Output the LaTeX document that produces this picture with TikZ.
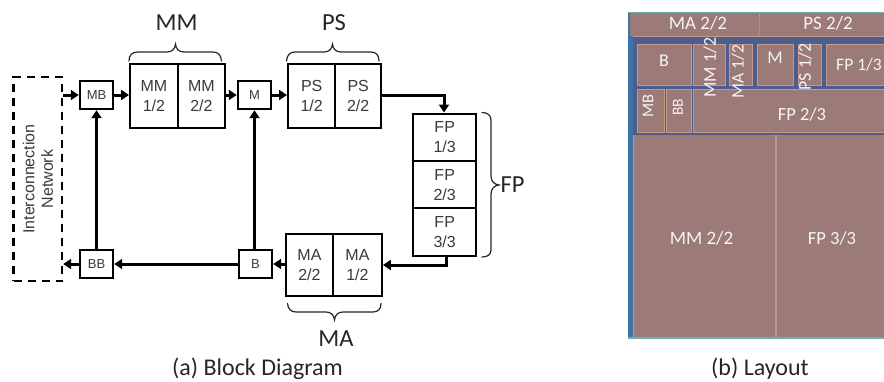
\documentclass[tikz,border=0pt]{standalone}
\usepackage{fontspec}
\setmainfont{Carlito}
\newfontfamily\blockfont{Liberation Sans}
\usetikzlibrary{arrows.meta}
\definecolor{inktext}{HTML}{3A3A3A}
\definecolor{diebg}{HTML}{4F5D8E}
\definecolor{cellfill}{HTML}{9B7A78}
\definecolor{cellline}{HTML}{C29A8A}
\definecolor{dieleft}{HTML}{3F72A5}
\definecolor{dieteal}{HTML}{6FB0A8}
\tikzset{
  blockbox/.style={draw=black,line width=2.4pt,fill=white,minimum width=#1,inner sep=0pt,align=center,text=inktext,font=\blockfont\fontsize{16}{20}\selectfont,anchor=north west},
  smallbox/.style={draw=black,line width=2.4pt,fill=white,minimum width=33pt,minimum height=28pt,inner sep=0pt,text=inktext,font=\blockfont\fontsize{13}{15}\selectfont},
  conn/.style={line width=3pt,-{Triangle[length=8pt,width=10pt]}},
  grpbrace/.style={draw=black!85,line width=1.2pt,line cap=round},
  grplabel/.style={text=black!85,font=\fontsize{24.5}{26}\selectfont},
  caption/.style={text=black!85,font=\fontsize{24}{26}\selectfont},
  cell/.style={draw=cellline,line width=.6pt,fill=cellfill,inner sep=0pt,anchor=north west},
  celltext/.style={text=white!92!cellfill,font=\fontsize{#1}{17}\selectfont,inner sep=0pt},
  celltext/.default=15
}
\begin{document}
\begin{tikzpicture}[x=1pt,y=-1pt]
\useasboundingbox (0,0) rectangle (884,381);
% --- block diagram ---
\node[draw=black,dash pattern=on 8pt off 6pt,line width=2.4pt,minimum width=48.5pt,minimum height=204pt,inner sep=0pt] (net) at (37.75,179) {};
\node[rotate=90,align=center,text=inktext,font=\blockfont\fontsize{16}{18.5}\selectfont] (netlabel) at (38,179) {Interconnection\\Network};
\node[smallbox] (mb) at (96.5,95) {MB};
\node[smallbox] (bb) at (96.5,264) {BB};
\node[smallbox] (m) at (254.5,95) {M};
\node[smallbox] (b) at (255.5,264) {B};
\node[blockbox=47.5pt,minimum height=64pt] (mm1) at (129,63) {MM\\1/2};
\node[blockbox=47.5pt,minimum height=64pt] (mm2) at (176.5,63) {MM\\2/2};
\node[blockbox=47pt,minimum height=64pt] (ps1) at (287,63) {PS\\1/2};
\node[blockbox=46pt,minimum height=64pt] (ps2) at (334,63) {PS\\2/2};
\node[blockbox=63pt,minimum height=47.5pt] (fp1) at (412,112.5) {FP\\1/3};
\node[blockbox=63pt,minimum height=47.5pt] (fp2) at (412,160) {FP\\2/3};
\node[blockbox=63pt,minimum height=48pt] (fp3) at (412,207) {FP\\3/3};
\node[blockbox=47.5pt,minimum height=62pt] (ma2) at (284.5,233) {MA\\2/2};
\node[blockbox=48.5pt,minimum height=62pt] (ma1) at (332,233) {MA\\1/2};
\coordinate (fpin) at (444,95);
\coordinate (fpout) at (446.5,265);
\draw[conn] (net.east |- mb) -- (mb);
\draw[conn] (mb) -- (mm1.west |- mb);
\draw[conn] (mm2.east |- m) -- (m);
\draw[conn] (m) -- (ps1.west |- m);
\draw[conn] (ps2.east |- fpin) -- (fpin) -- (fp1.north -| fpin);
\draw[line width=3pt] (fp3.south -| fpout) -- (fpout);
\draw[conn] ([xshift=1.5pt]fpout) -- (ma1.east |- fpout);
\draw[conn] (ma2.west |- b) -- (b);
\draw[conn] (b) -- (bb);
\draw[conn] (bb) -- (net.east |- bb);
\draw[conn] (bb) -- (mb);
\draw[conn] (b.north -| m) -- (m);
% braces
\draw[grpbrace] (129,61) .. controls (129,55) and (132,52) .. (138,52) -- (167,52) .. controls (172,52) and (175,49) .. (175.5,44) .. controls (176,49) and (179,52) .. (184,52) -- (213,52) .. controls (218,52) and (221,55) .. (221.5,61);
\draw[grpbrace] (286.5,61) .. controls (287,55) and (290,52) .. (295,52) -- (324,52) .. controls (329,52) and (332,49) .. (332.5,44) .. controls (333,49) and (336,52) .. (341,52) -- (371,52) .. controls (376,52) and (379,55) .. (379,61);
\draw[grpbrace] (482,112.5) .. controls (487,112.5) and (491,115) .. (491,120) -- (491,176) .. controls (491,181) and (494,184.5) .. (499,185) .. controls (494,185.5) and (491,189) .. (491,194) -- (491,250) .. controls (491,255) and (487,257) .. (482,257);
\draw[grpbrace] (287.5,303.5) .. controls (288,309) and (291,312) .. (296,312) -- (326,312) .. controls (331,312) and (334,315) .. (334.5,320) .. controls (335,315) and (338,312) .. (343,312) -- (373,312) .. controls (378,312) and (381,309) .. (381,303.5);
\node[grplabel] (mmlabel) at (176.5,23) {MM};
\node[grplabel] (pslabel) at (334,23) {PS};
\node[grplabel] (fplabel) at (512.5,185) {FP};
\node[grplabel] (malabel) at (336,339) {MA};
\node[caption] (capa) at (257.5,369) {(a) Block Diagram};
\node[caption] (capb) at (760,369) {(b) Layout};
% --- layout ---
\fill[diebg] (627.5,12) rectangle (884,338);
\fill[cellfill] (630,12) rectangle (884,36);
\draw[cellline,densely dotted,line width=.7pt] (759,12) -- (759,36);
\draw[cellline,line width=.7pt] (630,36) -- (884,36);
\node[celltext=19] (ma22) at (698,23) {MA 2/2};
\node[celltext=19] (ps22) at (828,23) {PS 2/2};
\node[cell,minimum width=54pt,minimum height=41.5pt] (cb) at (637,43.5) {};
\node[cell,minimum width=32pt,minimum height=41.5pt] (cmm1) at (693,43.5) {};
\node[cell,minimum width=23pt,minimum height=41.5pt] (cma1) at (729,43.5) {};
\node[cell,minimum width=36pt,minimum height=41.5pt] (cm) at (757,43.5) {};
\node[cell,minimum width=23pt,minimum height=41.5pt] (cps1) at (798,43.5) {};
\node[cell,minimum width=70pt,minimum height=41.5pt] (cfp1) at (826,43.5) {};
\node[cell,minimum width=27pt,minimum height=43pt] (cmb) at (637,89) {};
\node[cell,minimum width=25pt,minimum height=43pt] (cbb) at (666,89) {};
\node[cell,minimum width=200pt,minimum height=43pt] (cfp2) at (693,89) {};
\fill[cellfill] (633,135) rectangle (884,337);
\draw[cellline,line width=1pt] (633,135) -- (633,337);
\draw[cellline,line width=1.2pt] (776,135) -- (776,337);
\fill[dieleft] (627.5,12) rectangle (629.5,36);
\fill[dieleft] (627.5,36) rectangle (632.5,338);
\draw[dieteal,line width=1pt] (627.5,12) -- (884,12);
\draw[dieteal,line width=1.4pt] (627.5,338) -- (884,338);
\node[celltext=18] at (664,61) {B};
\node[celltext=18,rotate=90] at (710,67.5) {MM 1/2};
\node[celltext=17.5,rotate=90] at (738,71.5) {MA 1/2};
\node[celltext=18] at (775,58) {M};
\node[celltext=18,rotate=90] at (805,67) {PS 1/2};
\node[celltext=17.5] at (859,64.5) {FP 1/3};
\node[celltext=16.5,rotate=90] at (648,106) {MB};
\node[celltext=15.5,rotate=90] at (678,107) {BB};
\node[celltext=18.5] at (802,114) {FP 2/3};
\node[celltext=19] at (701.5,238) {MM 2/2};
\node[celltext=18.5] at (832,238) {FP 3/3};
\end{tikzpicture}
\end{document}
